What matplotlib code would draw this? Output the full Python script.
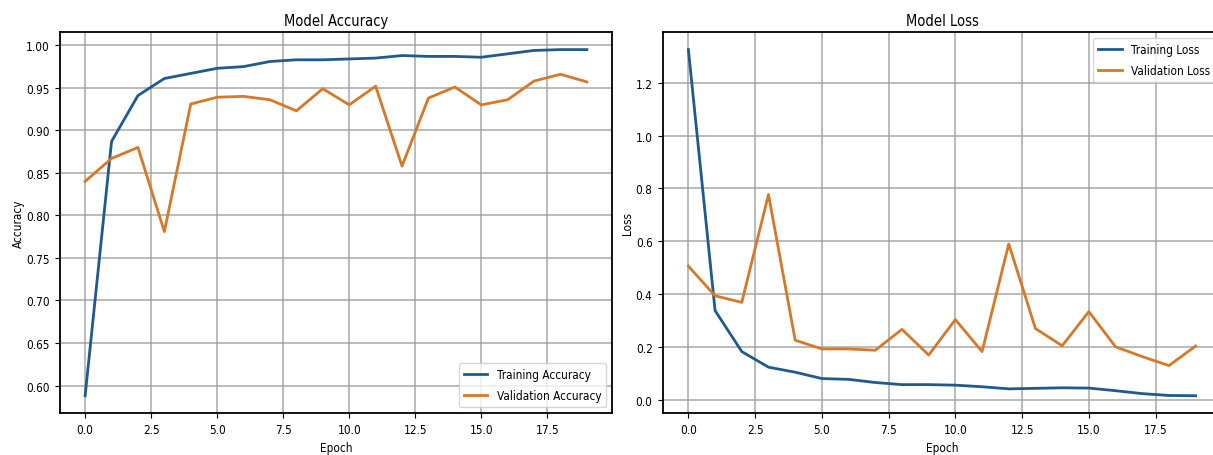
import numpy as np
import matplotlib
matplotlib.use("Agg")
import matplotlib.pyplot as plt

# per-epoch training history
epochs = np.arange(20)
train_acc = [0.588, 0.887, 0.941, 0.961, 0.967, 0.973, 0.975, 0.981, 0.983, 0.983,
             0.984, 0.985, 0.988, 0.987, 0.987, 0.986, 0.990, 0.994, 0.995, 0.995]
val_acc = [0.840, 0.867, 0.880, 0.781, 0.931, 0.939, 0.940, 0.936, 0.923, 0.949,
           0.930, 0.952, 0.858, 0.938, 0.951, 0.930, 0.936, 0.958, 0.966, 0.957]
train_loss = [1.325, 0.338, 0.183, 0.124, 0.105, 0.081, 0.078, 0.066, 0.058, 0.058,
              0.056, 0.050, 0.042, 0.044, 0.046, 0.045, 0.035, 0.024, 0.017, 0.016]
val_loss = [0.506, 0.394, 0.369, 0.777, 0.226, 0.193, 0.193, 0.188, 0.267, 0.170,
            0.304, 0.183, 0.590, 0.270, 0.205, 0.334, 0.201, 0.164, 0.130, 0.204]

blue = "#1f5a8c"
orange = "#d4782a"

plt.rcParams["font.family"] = ["DejaVu Sans"]
plt.rcParams["font.stretch"] = "condensed"
plt.rcParams["font.size"] = 8
plt.rcParams["axes.linewidth"] = 1.3

fig = plt.figure(figsize=(12.13, 4.56), dpi=100)
ax1 = fig.add_axes([0.0495, 0.092, 0.455, 0.835])
ax2 = fig.add_axes([0.5466, 0.092, 0.460, 0.835])


def style(ax, title, ylabel):
    ax.set_title(title, fontsize=10.5, pad=5)
    ax.set_xlabel("Epoch", fontsize=8.5, labelpad=3)
    ax.set_ylabel(ylabel, fontsize=8.5, labelpad=1)
    ax.grid(True, color="#999999", linewidth=1.1, alpha=0.85)
    ax.tick_params(labelsize=8.5, length=3.5, pad=4)


ax1.plot(epochs, train_acc, color=blue, linewidth=2, label="Training Accuracy")
ax1.plot(epochs, val_acc, color=orange, linewidth=2, label="Validation Accuracy")
style(ax1, "Model Accuracy", "Accuracy")
ax1.legend(loc="lower right", fontsize=8.5, handlelength=2, labelspacing=0.7)

ax2.plot(epochs, train_loss, color=blue, linewidth=2, label="Training Loss")
ax2.plot(epochs, val_loss, color=orange, linewidth=2, label="Validation Loss")
style(ax2, "Model Loss", "Loss")
ax2.legend(loc="upper right", fontsize=8.5, handlelength=2, labelspacing=0.7)

fig.savefig("out.png", dpi=100)
